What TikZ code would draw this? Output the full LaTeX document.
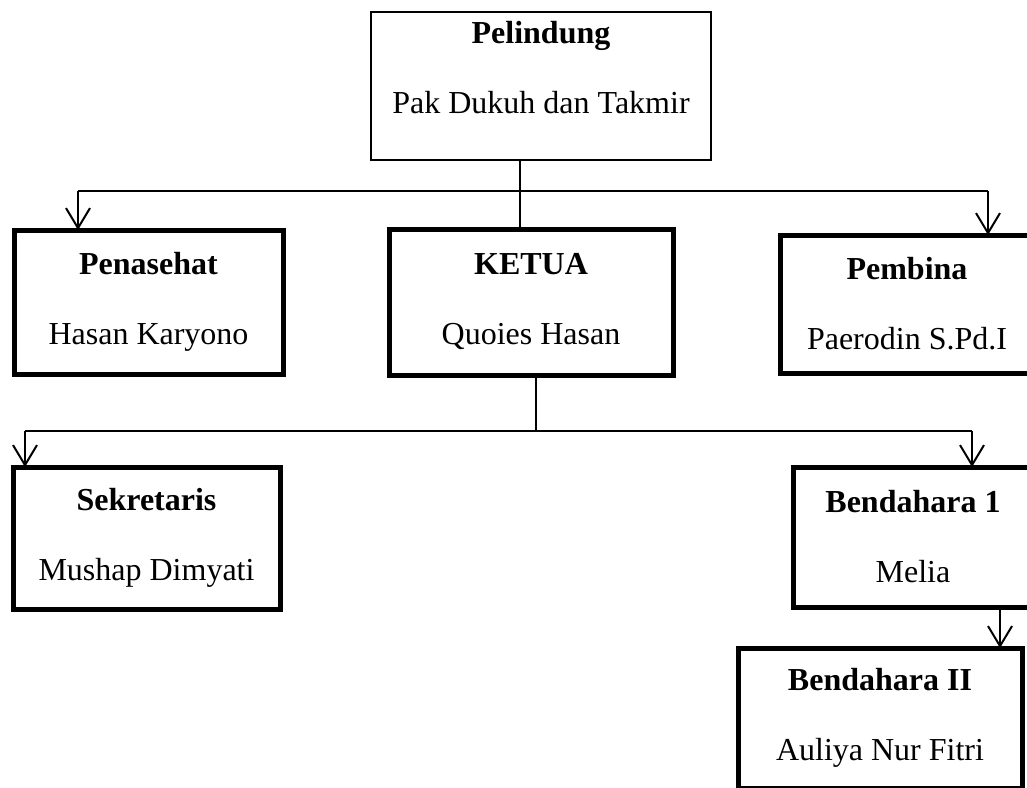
\documentclass[tikz,border=0pt]{standalone}
\usepackage{fontspec}
\setmainfont{Liberation Serif}
\usetikzlibrary{arrows.meta}
\begin{document}
\begin{tikzpicture}[x=1pt,y=-1pt,
  thinbox/.style={draw, line width=2.2pt, minimum width=#1, inner sep=0pt, align=center, font=\fontsize{32}{70}\selectfont},
  thickbox/.style={draw, line width=5pt, minimum width=#1, inner sep=0pt, align=center, font=\fontsize{32}{70}\selectfont},
  conn/.style={draw, line width=2pt},
  arr/.style={conn, -{Straight Barb[length=20pt,width=24pt,line width=2pt]}}
]
\useasboundingbox (0,0) rectangle (1027,787);
\clip (0,0) rectangle (1027,787);
\node[thinbox=340pt, minimum height=148pt, text depth=37pt] (pel) at (541,86) {\textbf{Pelindung}\\Pak Dukuh dan Takmir};
\node[thickbox=269pt, minimum height=144pt] (pen) at (148.5,302) {\textbf{Penasehat}\\Hasan Karyono};
\node[thickbox=284pt, minimum height=146pt] (ket) at (531,302) {\textbf{KETUA}\\Quoies Hasan};
\node[thickbox=254pt, minimum height=138pt] (pem) at (907,304) {\textbf{Pembina}\\Paerodin S.Pd.I};
\node[thickbox=267pt, minimum height=142pt] (sek) at (146.5,538) {\textbf{Sekretaris}\\Mushap Dimyati};
\node[thickbox=240pt, minimum height=140pt] (b1) at (913,537) {\textbf{Bendahara 1}\\Melia};
\node[thickbox=284pt, minimum height=140pt] (b2) at (880,718) {\textbf{Bendahara II}\\Auliya Nur Fitri};
% level 1 connectors
\coordinate (j1) at (520,191);
\coordinate (l1) at (78,191);
\coordinate (r1) at (988,191);
\draw[conn] (pel.south -| j1) -- (ket.north -| j1);
\draw[conn] (l1) -- (r1);
\draw[arr] (l1) -- ([yshift=-2.5pt]pen.north -| l1);
\draw[arr] (r1) -- ([yshift=-2.5pt]pem.north -| r1);
% level 2 connectors
\coordinate (j2) at (536,431);
\coordinate (l2) at (25,431);
\coordinate (r2) at (972,431);
\draw[conn] (ket.south -| j2) -- (j2);
\draw[conn] (l2) -- (r2);
\draw[arr] (l2) -- ([yshift=-2.5pt]sek.north -| l2);
\draw[arr] (r2) -- ([yshift=-2.5pt]b1.north -| r2);
% bendahara
\coordinate (j3) at (1000,600);
\draw[arr] (b1.south -| j3) -- ([yshift=-2.5pt]b2.north -| j3);
\end{tikzpicture}
\end{document}
